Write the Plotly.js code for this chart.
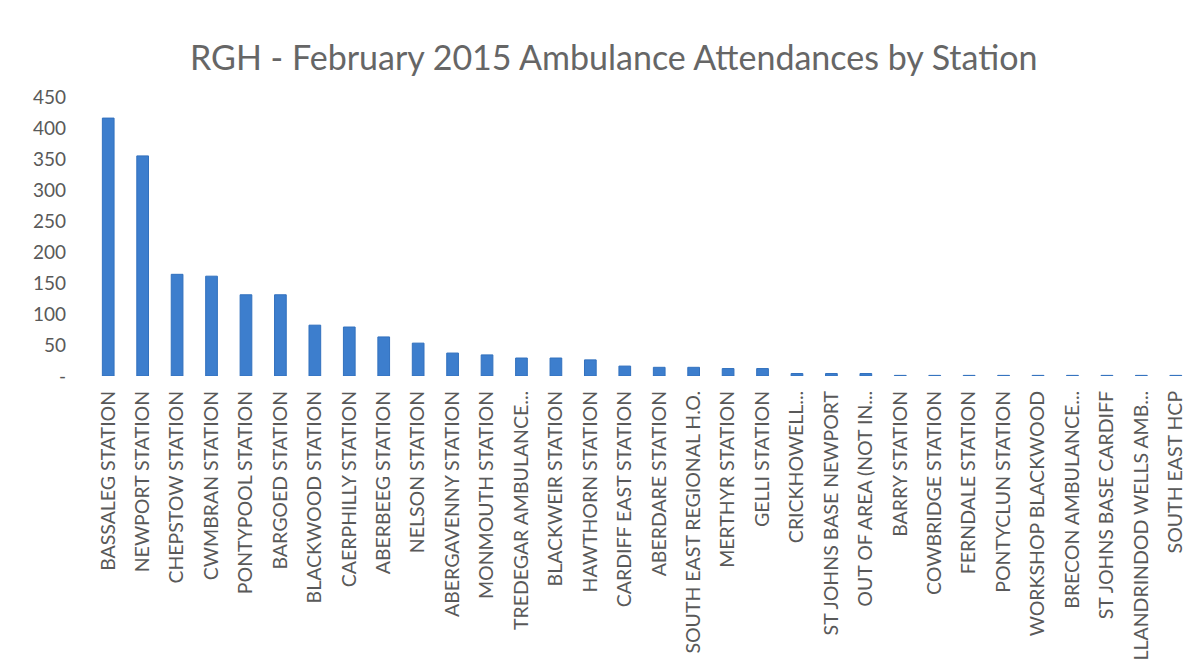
<!DOCTYPE html>
<html>
<head>
<meta charset="utf-8">
<script src="https://cdn.plot.ly/plotly-3.0.1.min.js"></script>
<style>html,body{margin:0;padding:0;background:#fff}#chart{width:1201px;height:670px}</style>
</head>
<body>
<div id="chart"></div>
<script>
const stations = [
  "BASSALEG STATION","NEWPORT STATION","CHEPSTOW STATION","CWMBRAN STATION","PONTYPOOL STATION",
  "BARGOED STATION","BLACKWOOD STATION","CAERPHILLY STATION","ABERBEEG STATION","NELSON STATION",
  "ABERGAVENNY STATION","MONMOUTH STATION","TREDEGAR AMBULANCE...","BLACKWEIR STATION","HAWTHORN STATION",
  "CARDIFF EAST STATION","ABERDARE STATION","SOUTH EAST REGIONAL H.O.","MERTHYR STATION","GELLI STATION",
  "CRICKHOWELL...","ST JOHNS BASE NEWPORT","OUT OF AREA (NOT IN...","BARRY STATION","COWBRIDGE STATION",
  "FERNDALE STATION","PONTYCLUN STATION","WORKSHOP BLACKWOOD","BRECON AMBULANCE...","ST JOHNS BASE CARDIFF",
  "LLANDRINDOD WELLS AMB...","SOUTH EAST HCP"
];
const attendances = [
  416, 355, 164, 161, 131,
  131, 82, 79, 63, 53,
  37, 34, 29, 29, 26,
  16, 14, 14, 12, 12,
  4, 4, 4, 1, 1,
  1, 1, 1, 1, 1,
  1, 1
];
const yTickVals = [0, 50, 100, 150, 200, 250, 300, 350, 400, 450];
const yTickText = ["-", "50", "100", "150", "200", "250", "300", "350", "400", "450"];

Plotly.newPlot('chart', [{
  type: 'bar',
  x: stations,
  y: attendances,
  marker: {color: '#3D7ECD', line: {color: '#3271BE', width: 1}},
  hoverinfo: 'x+y'
}], {
  width: 1201, height: 670,
  paper_bgcolor: '#fff', plot_bgcolor: '#fff',
  margin: {l: 91, r: 8, t: 97, b: 294},
  bargap: 0.66,
  showlegend: false,
  title: {text: 'RGH - February 2015 Ambulance Attendances by Station',
          font: {family: 'Lato, sans-serif', size: 34, color: '#666666'},
          x: 0.511, xanchor: 'center', y: 0.913, yanchor: 'middle'},
  xaxis: {
    type: 'category', tickangle: -90, showgrid: false, zeroline: false, showline: false,
    ticks: '', ticklabelstandoff: 10,
    tickfont: {family: 'Lato, sans-serif', size: 19.5, color: '#595959'}
  },
  yaxis: {
    range: [0, 450], tickvals: yTickVals, ticktext: yTickText,
    showgrid: false, zeroline: false, showline: false, ticks: '',
    ticklabelstandoff: 24,
    tickfont: {family: 'Lato, sans-serif', size: 19, color: '#595959'}
  }
}, {displayModeBar: false});
</script>
</body>
</html>
